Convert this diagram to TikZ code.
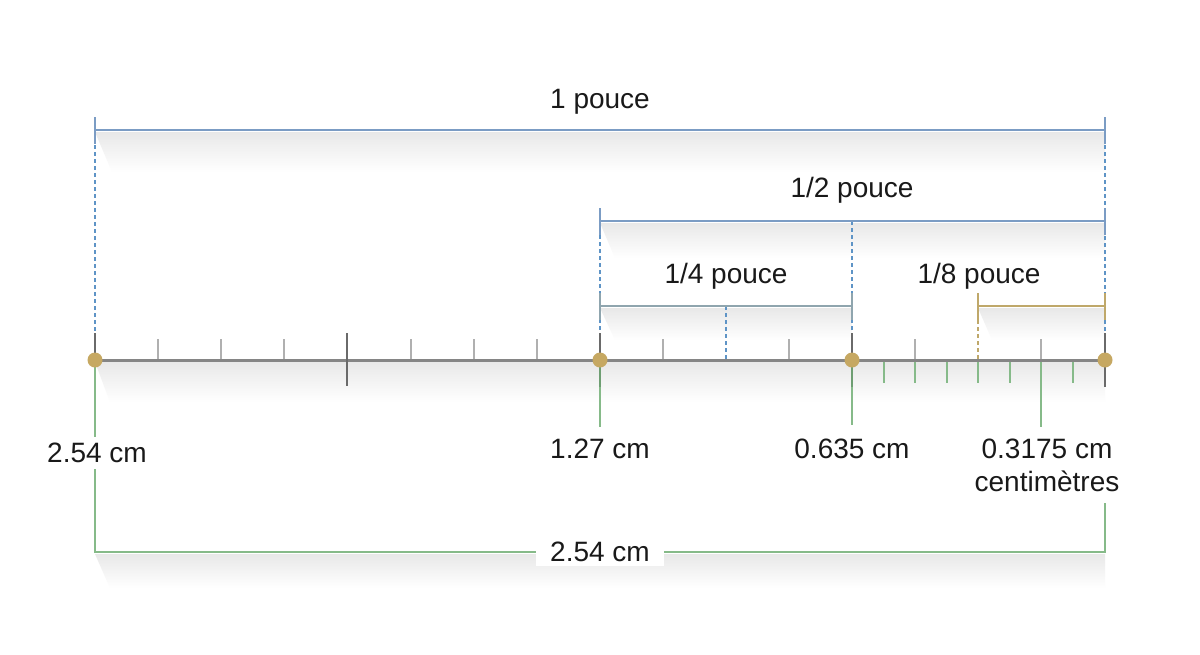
\documentclass[tikz,border=0pt]{standalone}
\usepackage{fontspec}
\setmainfont{Liberation Sans}
\definecolor{cblue}{HTML}{7B9CC4}
\definecolor{cdash}{HTML}{5E94C6}
\definecolor{cteal}{HTML}{8FA5AE}
\definecolor{ctan}{HTML}{C6A862}
\definecolor{ctanline}{HTML}{BFA86A}
\definecolor{cgreen}{HTML}{86BA89}
\definecolor{cdkgreen}{HTML}{6E9E72}
\definecolor{caxis}{HTML}{858585}
\definecolor{cdark}{HTML}{6A6A6A}
\definecolor{cminor}{HTML}{B0B0B0}
\tikzset{
  lbl/.style={font=\fontsize{28}{34}\selectfont, inner sep=1pt, text=black!90},
  dimline/.style={line width=2.7pt},
  endtick/.style={line width=2.8pt},
  guide/.style={draw=cdash, line width=1.1pt, dash pattern=on 4pt off 3pt},
  minortick/.style={draw=cminor, line width=1.5pt},
  greentick/.style={draw=cgreen, line width=1.7pt},
  darktick/.style={draw=cdark, line width=2.6pt},
  dot/.style={circle, fill=ctan, minimum size=15pt, inner sep=0pt},
  shadowbox/.style={top color=black!9, bottom color=white, draw=none},
}
\begin{document}
\begin{tikzpicture}[x=1pt,y=-1pt]
\useasboundingbox (0,0) rectangle (1200,654);
\fill[white] (0,0) rectangle (1200,654);

% shadows
\shade[shadowbox] (95,132) -- (1105,132) -- (1105,172) -- (112,172) -- cycle;
\shade[shadowbox] (600,223) -- (1105,223) -- (1105,258) -- (615,258) -- cycle;
\shade[shadowbox] (600,308) -- (852,308) -- (852,340) -- (615,340) -- cycle;
\shade[shadowbox] (978,308) -- (1105,308) -- (1105,340) -- (992,340) -- cycle;
\shade[shadowbox] (95,362) -- (1105,362) -- (1105,402) -- (110,402) -- cycle;
\shade[shadowbox] (95,554) -- (1105,554) -- (1105,588) -- (110,588) -- cycle;

% key coordinates
\coordinate (A) at (95,360);
\coordinate (B) at (600,360);
\coordinate (C) at (852,360);
\coordinate (D) at (1105,360);
\coordinate (Au) at (95,333);
\coordinate (Bu) at (600,333);
\coordinate (Cu) at (852,333);
\coordinate (Du) at (1105,333);
\coordinate (Dd) at (1105,387);
\coordinate (Bd) at (600,387);
\coordinate (Cd) at (852,387);

% guide (dashed) lines
\coordinate (gA1) at (95,145);
\coordinate (gD1) at (1105,145);
\coordinate (gB1) at (600,235);
\coordinate (gC1) at (852,221);
\coordinate (gQ1) at (726,306);  \coordinate (gQ2) at (726,360);
\coordinate (gE1) at (978,320);  \coordinate (gE2) at (978,360);
\draw[guide] (gA1) -- (Au);
\draw[guide] (gD1) -- (Du);
\draw[guide] (gB1) -- (Bu);
\draw[guide] (gC1) -- (Cu);
\draw[guide] (gQ1) -- (gQ2);
\draw[guide, draw=ctanline] (gE1) -- (gE2);

% dimension: 1 pouce
\coordinate (p1a) at (95,130); \coordinate (p1b) at (1105,130);
\draw[dimline, draw=cblue] (p1a) -- (p1b);
\draw[endtick, draw=cblue] ([yshift=13pt]p1a) -- ([yshift=-14pt]p1a);
\draw[endtick, draw=cblue] ([yshift=13pt]p1b) -- ([yshift=-14pt]p1b);
\node[lbl] (t1) at (600,102) {1 pouce};

% dimension: 1/2 pouce
\coordinate (p2a) at (600,221); \coordinate (p2b) at (1105,221);
\draw[dimline, draw=cblue] (p2a) -- (p2b);
\draw[endtick, draw=cblue] ([yshift=13pt]p2a) -- ([yshift=-14pt]p2a);
\draw[endtick, draw=cblue] ([yshift=13pt]p2b) -- ([yshift=-14pt]p2b);
\node[lbl] (t2) at (852,190) {1/2 pouce};

% dimension: 1/4 pouce
\coordinate (p4a) at (600,306); \coordinate (p4b) at (852,306);
\draw[dimline, draw=cteal] (p4a) -- (p4b);
\draw[endtick, draw=cteal] ([yshift=13pt]p4a) -- ([yshift=-14pt]p4a);
\draw[endtick, draw=cteal] ([yshift=13pt]p4b) -- ([yshift=-14pt]p4b);
\node[lbl] (t4) at (726,276) {1/4 pouce};

% dimension: 1/8 pouce
\coordinate (p8a) at (978,306); \coordinate (p8b) at (1105,306);
\draw[dimline, draw=ctanline] (p8a) -- (p8b);
\draw[endtick, draw=ctanline] ([yshift=13pt]p8a) -- ([yshift=-14pt]p8a);
\draw[endtick, draw=ctanline] ([yshift=13pt]p8b) -- ([yshift=-14pt]p8b);
\node[lbl] (t8) at (979,276) {1/8 pouce};

% minor ticks above axis
\foreach \x in {158,221,284,411,474,537,663,789,915,1041}
  \draw[minortick] (\x,339) -- (\x,360);
% green ticks below axis (last segment)
\foreach \x in {884,915,947,978,1010,1041,1073}
  \draw[greentick] (\x,360) -- (\x,383);

% long green leaders
\coordinate (gl1) at (95,552);
\coordinate (gl2) at (600,427);
\coordinate (gl3) at (852,425);
\coordinate (g41) at (1041,360); \coordinate (g42) at (1041,427);
\coordinate (gl5a) at (1105,503); \coordinate (gl5b) at (1105,552);
\draw[greentick] (A) -- (gl1) -- (gl5b) -- (gl5a);
\draw[greentick] (B) -- (gl2);
\draw[greentick] (C) -- (gl3);
\draw[greentick] (g41) -- (g42);
\draw[greentick, draw=cdkgreen, line width=2.2pt] (B) -- (Bd);
\draw[greentick, draw=cdkgreen, line width=2.2pt] (C) -- (Cd);

% main axis
\draw[draw=caxis, line width=3pt] (A) -- (D);
% dark ticks
\draw[darktick] (347,333) -- (347,386);
\draw[darktick] (Au) -- (A);
\draw[darktick] (Bu) -- (B);
\draw[darktick] (Cu) -- (C);
\draw[darktick] (Du) -- (Dd);

% dots
\node[dot] (dA) at (A) {};
\node[dot] (dB) at (B) {};
\node[dot] (dC) at (C) {};
\node[dot] (dD) at (D) {};

% labels
\node[lbl, fill=white, inner ysep=6pt] (l1) at (97,453) {2.54 cm};
\node[lbl] (l2) at (600,449) {1.27 cm};
\node[lbl] (l3) at (852,449) {0.635 cm};
\node[lbl] (l4) at (1047,449) {0.3175 cm};
\node[lbl] (l5) at (1047,481) {centimètres};
\node[lbl, fill=white, inner xsep=14pt, inner ysep=4pt] (lb) at (600,552) {2.54 cm};
\end{tikzpicture}
\end{document}
